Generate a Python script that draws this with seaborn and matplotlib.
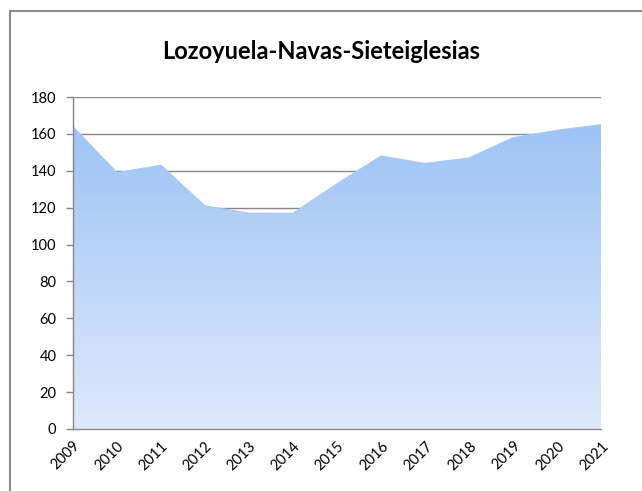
import numpy as np
import pandas as pd
import matplotlib
matplotlib.use("Agg")
import matplotlib.pyplot as plt
from matplotlib.patches import Rectangle
import seaborn as sns

years = [2009, 2010, 2011, 2012, 2013, 2014, 2015, 2016, 2017, 2018, 2019, 2020, 2021]
population = [164, 139, 143, 121, 117, 117, 133, 148, 144, 147, 158, 162, 165]
title = "Lozoyuela-Navas-Sieteiglesias"

df = pd.DataFrame({"year": years, "population": population})

sns.set_theme(style="white")
plt.rcParams["font.family"] = ["Lato", "DejaVu Sans"]

fig = plt.figure(figsize=(6.42, 4.91), dpi=100)
ax = fig.add_axes([0.1137, 0.1263, 0.8227, 0.6761])

grid_color = "#878787"
top_color = np.array([0x9D, 0xC3, 0xF5]) / 255
bottom_color = np.array([0xDE, 0xE9, 0xFB]) / 255

# horizontal gridlines behind the area
for v in range(20, 181, 20):
    ax.axhline(v, color=grid_color, lw=1.0, zorder=0)

# area with a vertical gradient, clipped to the filled polygon
poly = ax.fill_between(df["year"], df["population"], 0, color="none", lw=0, zorder=1)
ymax = max(population)
n = 256
t = np.linspace(0, 1, n)[:, None]
grad = bottom_color[None, :] * (1 - t) + top_color[None, :] * t
grad = np.repeat(grad[:, None, :], 2, axis=1)
img = ax.imshow(grad, origin="lower", aspect="auto",
                extent=[years[0], years[-1], 0, ymax], zorder=2, interpolation="bilinear")
img.set_clip_path(poly.get_paths()[0], transform=ax.transData)

sns.lineplot(data=df, x="year", y="population", ax=ax, color="#A8CAF5", lw=0.8, zorder=3)

ax.set_xlim(years[0], years[-1])
ax.set_ylim(0, 180)
ax.set_yticks(range(0, 181, 20))
ax.set_xticks(years)
ax.set_xticklabels([str(y) for y in years], rotation=45, ha="right",
                   rotation_mode="anchor", fontsize=10.5, color="black")
ax.tick_params(axis="y", labelsize=10.5, labelcolor="black", length=5, width=1,
               color=grid_color, direction="out", left=True, pad=7)
ax.tick_params(axis="x", length=0, pad=7)
ax.set_xlabel("")
ax.set_ylabel("")

for side in ["top", "right"]:
    ax.spines[side].set_visible(False)
for side in ["left", "bottom"]:
    ax.spines[side].set_color(grid_color)
    ax.spines[side].set_linewidth(1.0)
    ax.spines[side].set_zorder(4)

fig.text(0.5, 0.896, title, ha="center", va="center", fontsize=17, fontweight="bold",
         color="black")

# outer chart frame
fig.patches.append(Rectangle((10 / 642, -0.1), 1.2, 1 - 11 / 491 + 0.1,
                             transform=fig.transFigure, fill=False,
                             edgecolor="#8C8C8C", lw=1.5))

fig.savefig("out.png", dpi=100, facecolor="white")
